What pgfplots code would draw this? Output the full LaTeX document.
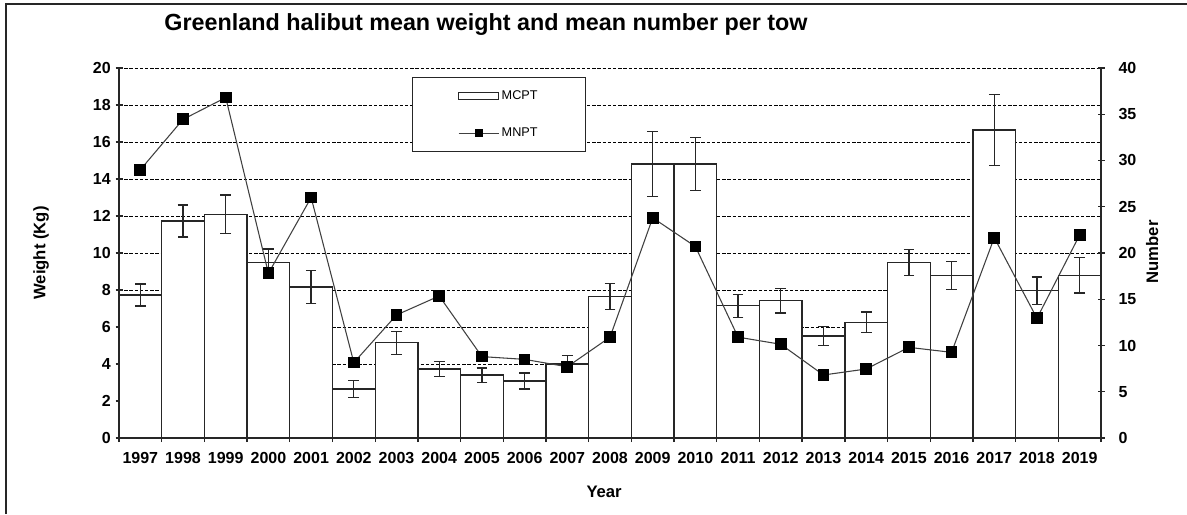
\documentclass[border=0pt]{standalone}
\usepackage{pgfplots}
\pgfplotsset{compat=1.18}
\usepackage{fontspec}
\setmainfont{Liberation Sans}
\begin{document}
\begin{tikzpicture}
\path[use as bounding box] (0,0) rectangle (890.25pt,385.5pt);
\draw[line width=1.1pt, black!85] (4.5pt,0pt) -- (4.5pt,382.5pt) -- (891pt,382.5pt);
\begin{axis}[
  at={(89.25pt,57pt)}, anchor=south west,
  scale only axis, width=736.5pt, height=277.5pt,
  xmin=-0.5, xmax=22.5, ymin=0, ymax=20,
  ybar, bar width=1,
  axis x line*=bottom, axis y line*=left,
  axis line style={line width=1.1pt, black!85},
  tick align=center,
  major tick length=5.25pt, minor tick length=6pt,
  every tick/.style={line width=1pt, black!85},
  xtick={0,...,22},
  xticklabels={1997,1998,1999,2000,2001,2002,2003,2004,2005,2006,2007,2008,2009,2010,2011,2012,2013,2014,2015,2016,2017,2018,2019},
  minor xtick={-0.5,0.5,...,22.5},
  major x tick style={draw=none},
  ytick={0,2,...,20},
  ymajorgrids,
  grid style={dashed, dash pattern=on 2.6pt off 1.3pt, line width=0.7pt, black},
  /pgf/number format/assume math mode=true,
  tick label style={font=\bfseries\fontsize{12}{14}\selectfont},
  xticklabel style={yshift=-4.5pt},
  ylabel={\bfseries Weight (Kg)},
  ylabel style={at={(axis description cs:-0.0794,0.5)}, anchor=center, font=\fontsize{12.5}{14}\selectfont},
  xlabel={\bfseries Year},
  xlabel style={at={(axis description cs:0.494,-0.146)}, anchor=center, font=\fontsize{12.5}{14}\selectfont},
  title={\bfseries Greenland halibut mean weight and mean number per tow},
  title style={at={(axis description cs:0.3737,1.0946)}, anchor=center, font=\fontsize{17.5}{20}\selectfont},
]
\addplot[fill=white, draw=black!85, line width=1pt,
  error bars/.cd, y dir=both, y explicit,
  error bar style={line width=1pt, black!85},
  error mark options={rotate=90, mark size=4pt, line width=1pt, black!85}]
coordinates {
(0,7.73) +- (0,0.6)
(1,11.73) +- (0,0.87)
(2,12.09) +- (0,1.05)
(3,9.5) +- (0,0.72)
(4,8.16) +- (0,0.89)
(5,2.65) +- (0,0.47)
(6,5.15) +- (0,0.62)
(7,3.73) +- (0,0.42)
(8,3.4) +- (0,0.39)
(9,3.08) +- (0,0.43)
(10,4.0) +- (0,0.47)
(11,7.64) +- (0,0.71)
(12,14.81) +- (0,1.76)
(13,14.81) +- (0,1.42)
(14,7.15) +- (0,0.62)
(15,7.42) +- (0,0.66)
(16,5.51) +- (0,0.5)
(17,6.25) +- (0,0.56)
(18,9.5) +- (0,0.7)
(19,8.79) +- (0,0.76)
(20,16.65) +- (0,1.93)
(21,7.96) +- (0,0.75)
(22,8.79) +- (0,0.95)
};
\end{axis}
\begin{axis}[
  at={(89.25pt,57pt)}, anchor=south west,
  scale only axis, width=736.5pt, height=277.5pt,
  xmin=-0.5, xmax=22.5, ymin=0, ymax=40,
  axis x line=none, axis y line*=right,
  axis line style={line width=1.1pt, black!85},
  tick align=center, major tick length=5.25pt,
  every tick/.style={line width=1pt, black!85},
  ytick={0,5,...,40},
  /pgf/number format/assume math mode=true,
  tick label style={font=\bfseries\fontsize{12}{14}\selectfont},
  yticklabel style={xshift=7pt},
  ylabel={\bfseries Number},
  ylabel style={at={(axis description cs:1.052,0.503)}, anchor=center, rotate=0, font=\fontsize{12.5}{14}\selectfont},
  legend style={at={(axis description cs:0.2984,0.9757)}, anchor=north west,
    draw=black!85, line width=0.9pt, fill=white,
    inner xsep=34pt, inner ysep=7.5pt, row sep=16pt,
    font=\fontsize{9.5}{11}\selectfont, cells={anchor=west}},
]
\addlegendimage{legend image code/.code={\draw[black!85, line width=0.8pt, fill=white] (0pt,-2.6pt) rectangle (30pt,2.6pt);}}
\addlegendentry{MCPT}
\addplot[color=black!75, line width=0.8pt, mark=square*, mark size=4pt,
  mark options={fill=black, draw=black, solid},
  legend image code/.code={\draw[black!75, line width=0.8pt] (0pt,0pt) -- (30pt,0pt); \fill[black] (12.4pt,-2.6pt) rectangle (17.6pt,2.6pt);}]
coordinates {
(0,29.0) (1,34.45) (2,36.8) (3,17.8) (4,26.0) (5,8.15) (6,13.3) (7,15.35)
(8,8.8) (9,8.5) (10,7.7) (11,10.9) (12,23.8) (13,20.7) (14,10.9) (15,10.13)
(16,6.81) (17,7.46) (18,9.8) (19,9.26) (20,21.66) (21,12.94) (22,21.95)
};
\addlegendentry{MNPT}
\end{axis}
\end{tikzpicture}
\end{document}
